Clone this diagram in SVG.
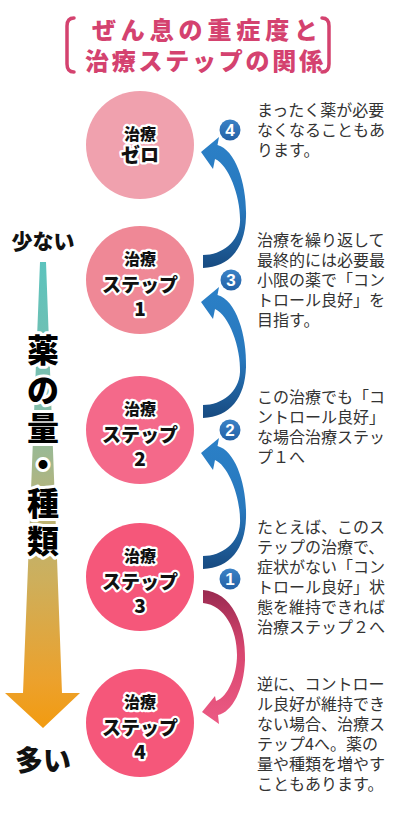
<svg xmlns="http://www.w3.org/2000/svg" width="400" height="816" viewBox="0 0 400 816">
<defs>
<linearGradient id="gBlue" x1="0" y1="0" x2="0" y2="1">
<stop offset="0" stop-color="#2b80c7"/>
<stop offset="0.55" stop-color="#2878bd"/>
<stop offset="1" stop-color="#174a80"/>
</linearGradient>
<linearGradient id="gPink" x1="0" y1="0" x2="0" y2="1">
<stop offset="0" stop-color="#992a50"/>
<stop offset="0.45" stop-color="#d8466f"/>
<stop offset="1" stop-color="#ec5a84"/>
</linearGradient>
<linearGradient id="gLeft" gradientUnits="userSpaceOnUse" x1="0" y1="262" x2="0" y2="728">
<stop offset="0" stop-color="#5cc3bd"/>
<stop offset="0.3" stop-color="#7fbeac"/>
<stop offset="0.5" stop-color="#b5b47c"/>
<stop offset="0.68" stop-color="#cdaf5c"/>
<stop offset="0.9" stop-color="#eca12c"/>
<stop offset="1" stop-color="#f29b10"/>
</linearGradient>
<linearGradient id="gBadge" x1="0" y1="0" x2="0" y2="1">
<stop offset="0" stop-color="#3b82c6"/>
<stop offset="1" stop-color="#2461a6"/>
</linearGradient>
<path id="blueArrow" d="M203,255 C222,255 239,242 240,222 C241,198 229,165 215,159 L213,169 L201,152 L219,137 L217.5,145 C236,150 247,185 246,217 C245,248 230,267 203,268 Z"/>
</defs>
<style>
.title{font-family:"Noto Sans CJK JP","Liberation Sans",sans-serif;font-weight:900;font-size:24px;fill:#d4426f;text-anchor:middle}
.bracket{fill:none;stroke:#d4426f;stroke-width:3.5;stroke-linecap:round}
.ctext{font-family:"Noto Sans CJK JP","Liberation Sans",sans-serif;font-weight:900;fill:#111;stroke:#fff;stroke-width:4.5;stroke-linejoin:round;paint-order:stroke;text-anchor:middle}
.s16{font-size:16px}
.s19{font-size:19px}
.vtext{font-family:"Noto Sans CJK JP","Liberation Sans",sans-serif;font-weight:900;font-size:32px;fill:#000;stroke:#fff;stroke-width:6;stroke-linejoin:round;paint-order:stroke;text-anchor:middle}
.ltext{font-family:"Noto Sans CJK JP","Liberation Sans",sans-serif;font-weight:900;fill:#111;text-anchor:middle}
.desc{font-family:"Noto Sans CJK JP","Liberation Sans",sans-serif;font-size:16px;fill:#333}
.badge{fill:url(#gBadge)}
.bnum{font-family:"Liberation Sans","Noto Sans",sans-serif;font-weight:bold;font-size:17px;fill:#fff;text-anchor:middle}
</style>
<rect width="400" height="816" fill="#fff"/>

<g id="title">
<path class="bracket" d="M74,18 Q67,18 67,26 V64 Q67,72 74,72"/>
<path class="bracket" d="M322,18 Q329,18 329,26 V64 Q329,72 322,72"/>
<text class="title" x="205" y="39" textLength="226" lengthAdjust="spacing">ぜん息の重症度と</text>
<text class="title" x="204" y="70" textLength="238" lengthAdjust="spacing">治療ステップの関係</text>
</g>

<g id="scale">
<polygon points="40,262 46,262 62,693 80,693 43,728 5,693 23,693" fill="url(#gLeft)"/>
<text class="ltext" x="43" y="249" font-size="21">少ない</text>
<text class="vtext" x="43" y="362">薬</text>
<text class="vtext" x="43" y="402">の</text>
<text class="vtext" x="43" y="440">量</text>
<text class="vtext" x="43" y="477">・</text>
<text class="vtext" x="43" y="515">種</text>
<text class="vtext" x="43" y="553">類</text>
<text class="ltext" x="43" y="771" font-size="28">多い</text>
</g>

<g id="connectors">
<use href="#blueArrow" fill="url(#gBlue)"/>
<use href="#blueArrow" fill="url(#gBlue)" transform="translate(0,150)"/>
<use href="#blueArrow" fill="url(#gBlue)" transform="translate(0,301)"/>
<path d="M203,590 C232,592 246,625 245,660 C244,690 232,712 218,715 L219,724 L202,712 L215,696 L216,701 C228,697 237,675 237,655 C237,630 225,605 203,603 Z" fill="url(#gPink)"/>
</g>

<g id="step0">
<circle cx="140" cy="145" r="54" fill="#f0a1ae"/>
<text class="ctext s16" x="140" y="140">治療</text>
<text class="ctext s19" x="140" y="162">ゼロ</text>
</g>
<g id="step1">
<circle cx="140" cy="280" r="54" fill="#ef8896"/>
<text class="ctext s16" x="140" y="265">治療</text>
<text class="ctext s19" x="140" y="292">ステップ</text>
<text class="ctext s19" x="140" y="316">1</text>
</g>
<g id="step2">
<circle cx="140" cy="430" r="54" fill="#f4698a"/>
<text class="ctext s16" x="140" y="415">治療</text>
<text class="ctext s19" x="140" y="442">ステップ</text>
<text class="ctext s19" x="140" y="466">2</text>
</g>
<g id="step3">
<circle cx="140" cy="577" r="54" fill="#f5577a"/>
<text class="ctext s16" x="140" y="562">治療</text>
<text class="ctext s19" x="140" y="589">ステップ</text>
<text class="ctext s19" x="140" y="613">3</text>
</g>
<g id="step4">
<circle cx="140" cy="723" r="54" fill="#f5577a"/>
<text class="ctext s16" x="140" y="708">治療</text>
<text class="ctext s19" x="140" y="735">ステップ</text>
<text class="ctext s19" x="140" y="759">4</text>
</g>

<g id="badge4"><circle class="badge" cx="230" cy="130" r="10.5"/><text class="bnum" x="230" y="136">4</text></g>
<g id="badge3"><circle class="badge" cx="231" cy="280" r="10.5"/><text class="bnum" x="231" y="286">3</text></g>
<g id="badge2"><circle class="badge" cx="230" cy="430" r="10.5"/><text class="bnum" x="230" y="436">2</text></g>
<g id="badge1"><circle class="badge" cx="230" cy="579" r="10.5"/><text class="bnum" x="230" y="585">1</text></g>

<g id="desc4">
<text class="desc" x="257" y="116">まったく薬が必要</text>
<text class="desc" x="257" y="136">なくなることもあ</text>
<text class="desc" x="257" y="156">ります。</text>
</g>
<g id="desc3">
<text class="desc" x="257" y="246">治療を繰り返して</text>
<text class="desc" x="257" y="266">最終的には必要最</text>
<text class="desc" x="257" y="286">小限の薬で「コン</text>
<text class="desc" x="257" y="306">トロール良好」を</text>
<text class="desc" x="257" y="326">目指す。</text>
</g>
<g id="desc2">
<text class="desc" x="257" y="403">この治療でも「コ</text>
<text class="desc" x="257" y="423">ントロール良好」</text>
<text class="desc" x="257" y="443">な場合治療ステッ</text>
<text class="desc" x="257" y="463">プ１へ</text>
</g>
<g id="desc1">
<text class="desc" x="257" y="533">たとえば、このス</text>
<text class="desc" x="257" y="553">テップの治療で、</text>
<text class="desc" x="257" y="573">症状がない「コン</text>
<text class="desc" x="257" y="593">トロール良好」状</text>
<text class="desc" x="257" y="613">態を維持できれば</text>
<text class="desc" x="257" y="633">治療ステップ２へ</text>
</g>
<g id="desc5">
<text class="desc" x="257" y="690">逆に、コントロー</text>
<text class="desc" x="257" y="710">ル良好が維持でき</text>
<text class="desc" x="257" y="730">ない場合、治療ス</text>
<text class="desc" x="257" y="750">テップ4へ。薬の</text>
<text class="desc" x="257" y="770">量や種類を増やす</text>
<text class="desc" x="257" y="790">こともあります。</text>
</g>
</svg>
